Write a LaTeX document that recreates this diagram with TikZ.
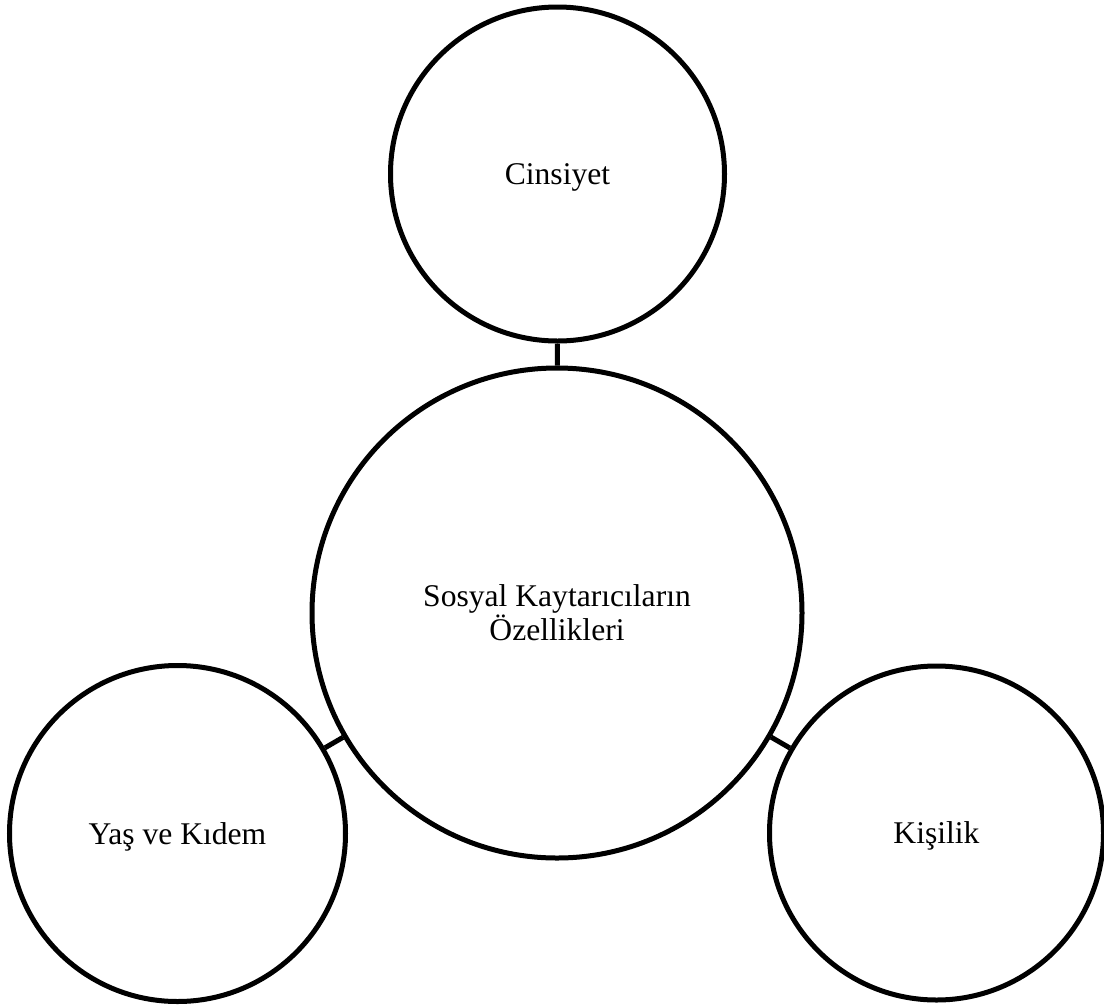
\documentclass[tikz,border=0pt]{standalone}
\usepackage{fontspec}
\setmainfont{Liberation Serif}
\begin{document}
\begin{tikzpicture}[x=0.75pt,y=-0.75pt,
  bubble/.style={circle, draw=black, line width=3.75pt, inner sep=0pt,
    font=\fontsize{23.7}{25.5}\selectfont, text=black, align=center},
  satellite/.style={bubble, minimum size=#1, text height=20.5pt, text depth=4.74pt},
  link/.style={draw=black, line width=3.75pt}]
\useasboundingbox (0,0) rectangle (1104,1004);
\clip (0,0) rectangle (1104,1004);
\node[bubble, minimum size=367.5pt] (ctr) at (557,613) {Sosyal Kaytarıcıların\\Özellikleri};
\node[satellite=250.5pt] (top) at (557.5,174) {Cinsiyet};
\node[satellite=252pt] (left) at (177.5,833.5) {Yaş ve Kıdem};
\node[satellite=250.5pt] (right) at (936.5,833) {Kişilik};
\draw[link] (top) -- (ctr);
\draw[link] (left) -- (ctr);
\draw[link] (right) -- (ctr);
\end{tikzpicture}
\end{document}
